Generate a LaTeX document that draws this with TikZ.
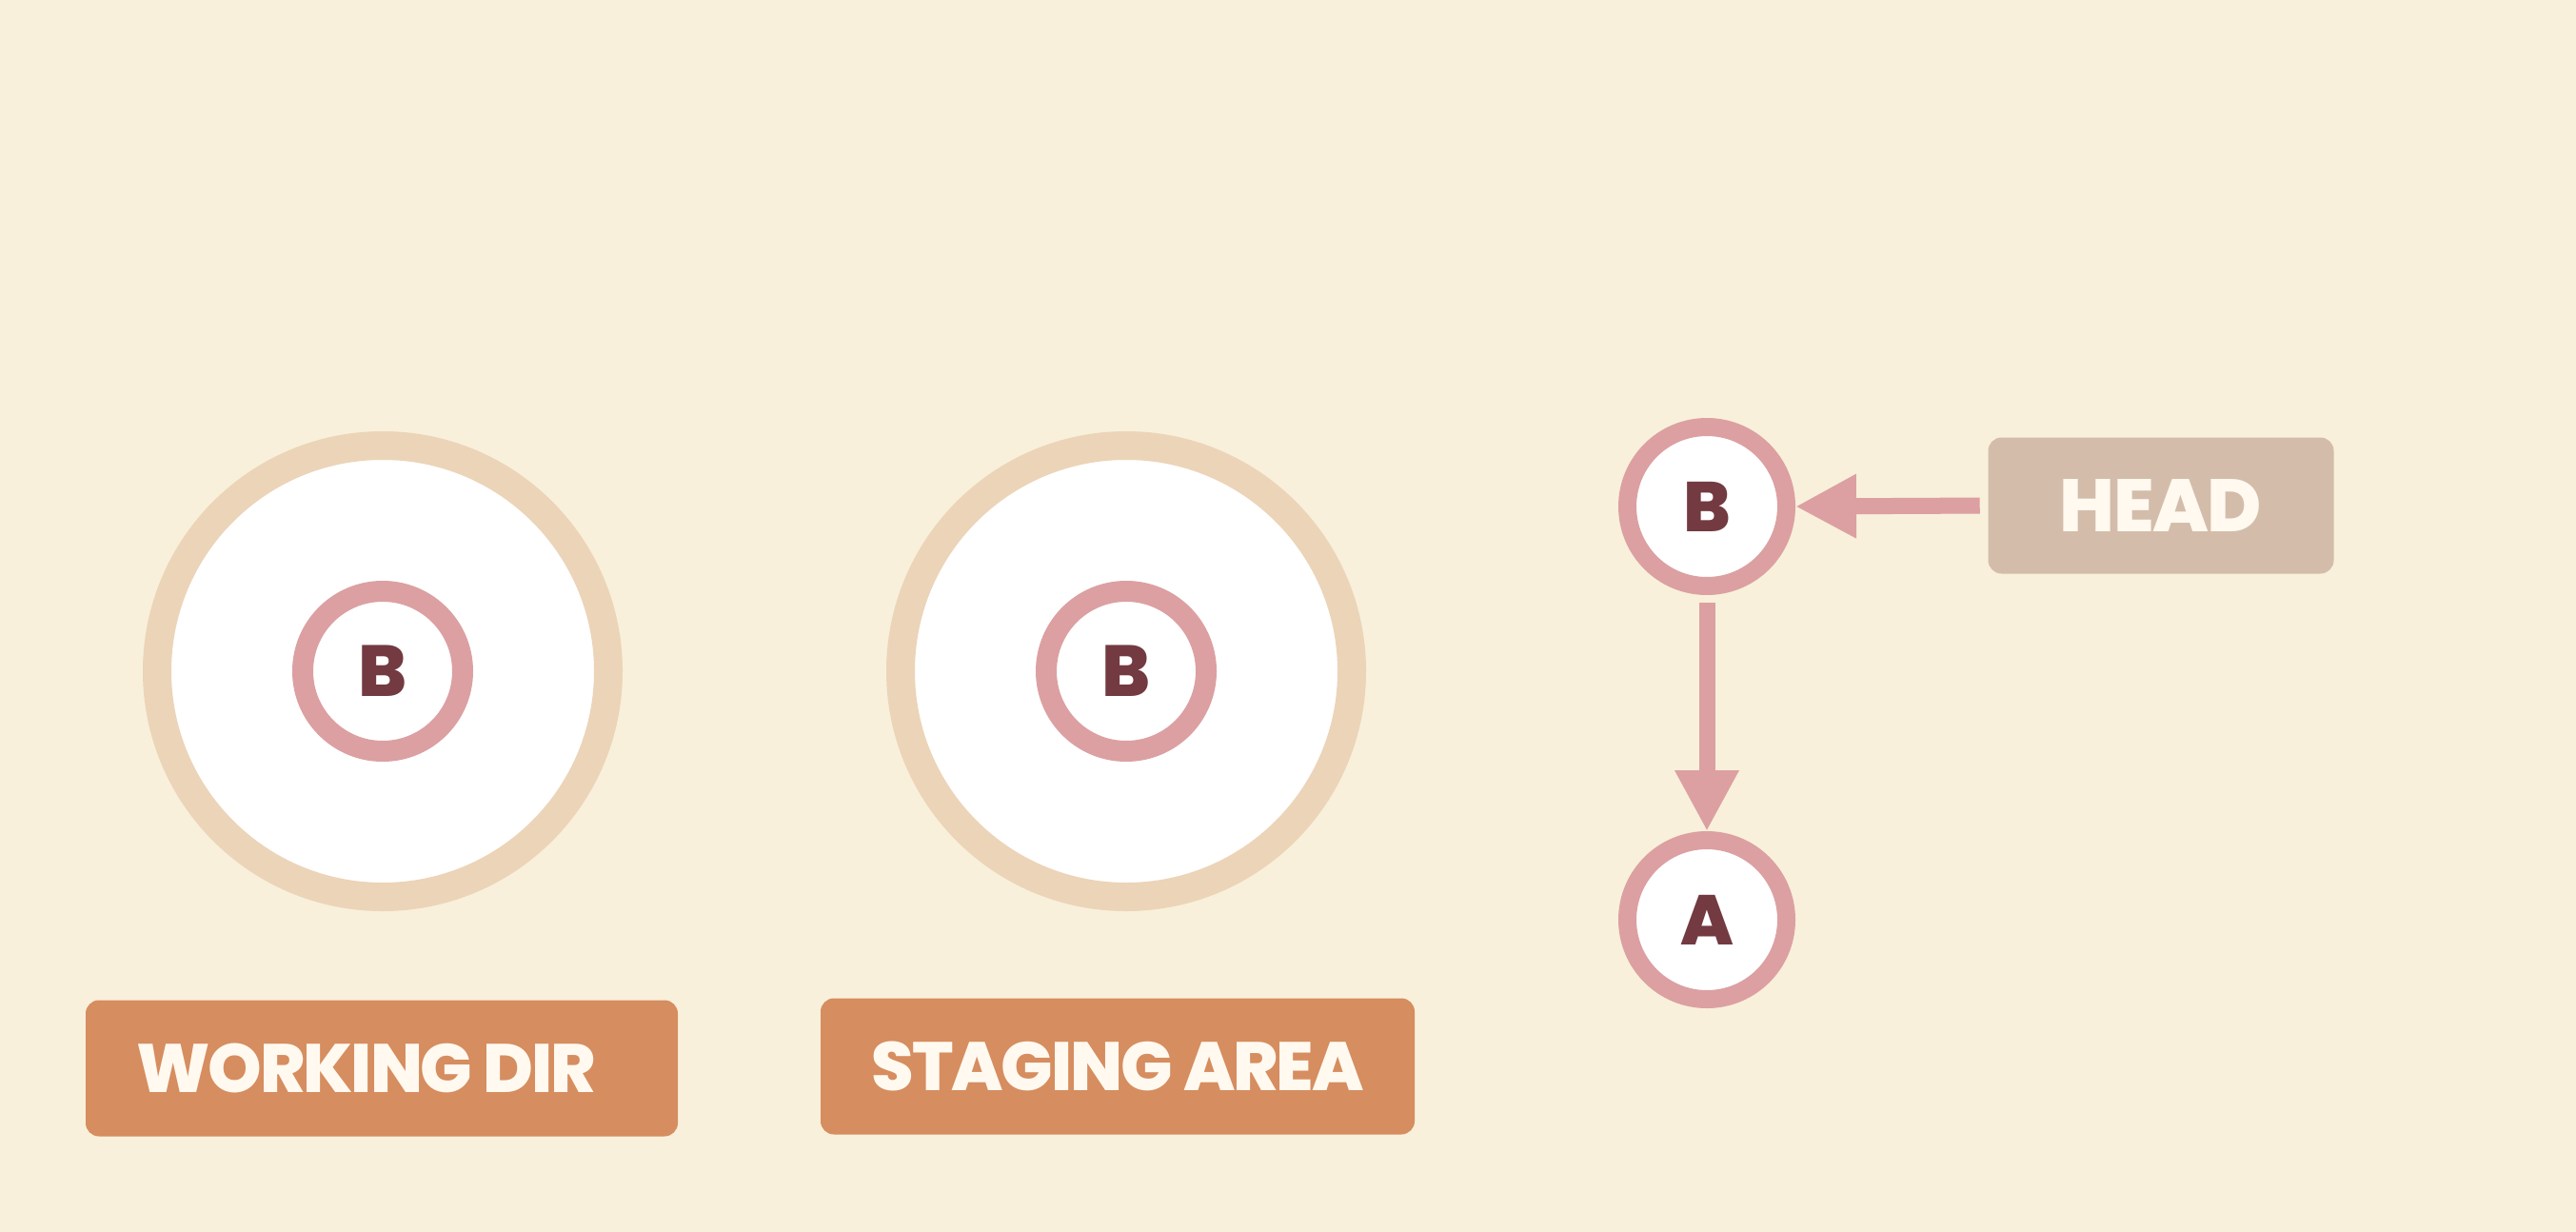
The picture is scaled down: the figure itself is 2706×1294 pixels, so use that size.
\documentclass[tikz,border=0pt]{standalone}
\usepackage{fontspec}
\setmainfont{Poppins}
\newfontfamily\heavyfont{Poppins ExtraBold}
\usetikzlibrary{arrows.meta}
\definecolor{bgc}{HTML}{F8F0DA}
\definecolor{ringc}{HTML}{ECD4B8}
\definecolor{pinkc}{HTML}{DCA0A2}
\definecolor{letterc}{HTML}{733A41}
\definecolor{orangec}{HTML}{D68D5F}
\definecolor{headc}{HTML}{D3BDAA}
\definecolor{labtext}{HTML}{FFF9F0}
\tikzset{
  bigring/.style={circle,draw=ringc,fill=white,line width=7.5pt,minimum size=118.5pt,inner sep=0pt},
  smallring/.style={circle,draw=pinkc,fill=white,line width=5.5pt,minimum size=42pt,inner sep=0pt,
    text=letterc,font=\heavyfont\fontsize{19}{19}\selectfont},
  commit/.style={circle,draw=pinkc,fill=white,line width=4.75pt,minimum size=41.75pt,inner sep=0pt,
    text=letterc,font=\heavyfont\fontsize{18.5}{18.5}\selectfont},
  areabox/.style={rectangle,rounded corners=3.5pt,fill=orangec,minimum height=35.75pt,inner sep=0pt,
    text=labtext,font=\heavyfont\fontsize{18}{18}\selectfont\addfontfeatures{LetterSpace=-3}},
  headbox/.style={rectangle,rounded corners=3.5pt,fill=headc,minimum width=90.75pt,minimum height=35.75pt,inner sep=0pt,
    text=labtext,font=\heavyfont\fontsize{19.5}{19.5}\selectfont\addfontfeatures{LetterSpace=-2}},
  arr/.style={draw=pinkc,line width=4.25pt,-{Triangle[length=16pt,width=15.75pt]}}
}
\begin{document}
\begin{tikzpicture}[x=0.25pt,y=-0.25pt]
\useasboundingbox (0,0) rectangle (2706,1294);
\fill[bgc] (0,0) rectangle (2706,1294);
\node[bigring] (wd) at (402,705) {};
\node[smallring] (wdb) at (402,705) {B};
\node[bigring] (sa) at (1183,705) {};
\node[smallring] (sab) at (1183,705) {B};
\node[areabox,minimum width=155.5pt] (wdl) at (401,1122) {\hspace*{-8pt}WORKING DIR};
\node[areabox,minimum width=156pt] (sal) at (1174,1120) {STAGING AREA};
\node[commit] (cb) at (1793,532) {B};
\node[commit] (ca) at (1793,966) {A};
\node[headbox] (head) at (2270,531) {HEAD};
\draw[arr,shorten <=2pt] (head.west) -- (cb.east);
\draw[arr,shorten <=2pt] (cb.south) -- (ca.north);
\end{tikzpicture}
\end{document}
